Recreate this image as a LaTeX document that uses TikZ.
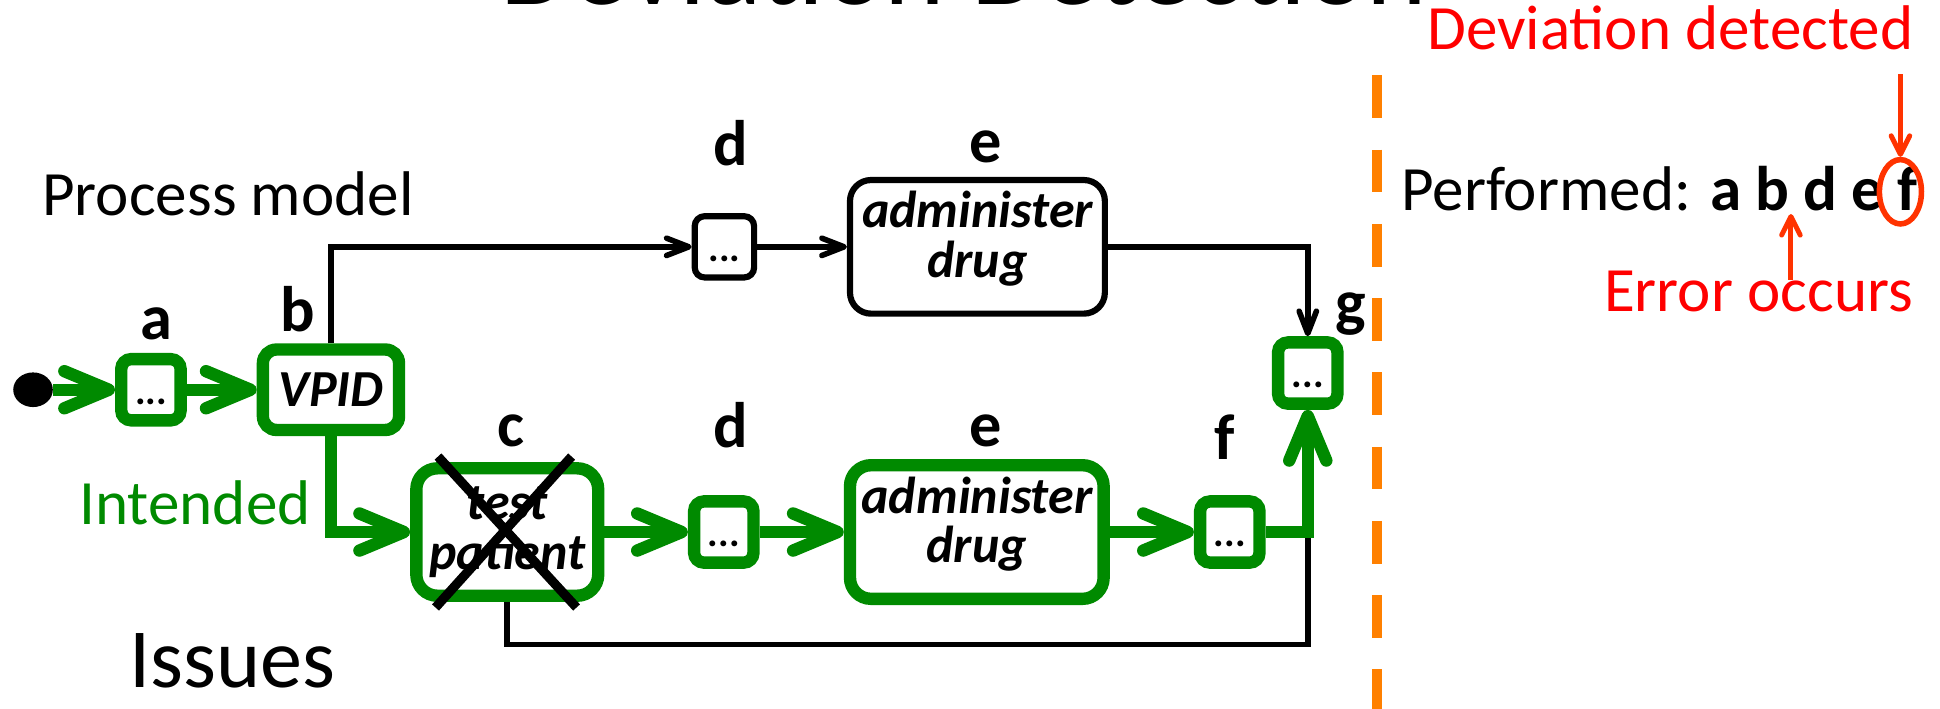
\documentclass[tikz,border=0pt]{standalone}
\usepackage{fontspec}
\setmainfont{Carlito}
\usetikzlibrary{arrows.meta,shapes.geometric}
\definecolor{flowgreen}{RGB}{0,138,0}
\definecolor{splitorange}{RGB}{255,128,0}
\definecolor{markred}{RGB}{255,51,0}
\newcommand{\lowpad}{\rule[-20pt]{0pt}{20pt}}

\begin{document}
\begin{tikzpicture}[x=1pt,y=-1pt,
  lbl/.style={anchor=base,font=\bfseries\fontsize{52}{52}\selectfont},
  say/.style={anchor=base west,font=\fontsize{51}{51}\selectfont},
  dotbox/.style={rounded corners=8pt,minimum width=48pt,minimum height=49.5pt,fill=white,inner sep=0pt,
    font=\bfseries\fontsize{32}{32}\selectfont,text height=24pt,text depth=0pt},
  taskbox/.style={rounded corners=17pt,fill=white,inner sep=0pt,align=center,
    font=\bfseries\itshape\fontsize{42}{40}\selectfont},
  done/.style={draw=flowgreen,line width=10pt},
  skipped/.style={draw=black,line width=5pt},
  flow/.style={flowgreen,line width=10pt,-{Straight Barb[length=36pt,width=30pt,round]}},
  altflow/.style={black,line width=4.5pt,-{Straight Barb[length=18pt,width=14pt,round]}},
  strike/.style={black,line width=7.5pt},
  redarrow/.style={markred,line width=4pt,-{Straight Barb[length=15pt,width=15pt,round]}}]
\useasboundingbox (0,0) rectangle (1568,573);

\node [anchor=base,font=\fontsize{93}{93}\selectfont] (title) at (779,4) {Deviation Detection};

% process model
\node [ellipse,fill=black,minimum width=32pt,minimum height=28pt,inner sep=0pt] (start) at (26.7,315) {};
\node [dotbox,done] (a) at (122,315) {...};
\node [taskbox,done,minimum width=110pt,minimum height=65pt,rounded corners=11pt] (b) at (267.5,315) {VPID};
\node [taskbox,done,minimum width=147pt,minimum height=103pt] (c) at (410,430) {test\\patient};
\node [dotbox,done] (d2) at (585,430) {...};
\node [taskbox,done,minimum width=205pt,minimum height=108pt] (e2) at (789.5,430) {administer\\drug\lowpad};
\node [dotbox,done] (f) at (994,430) {...};
\node [dotbox,done] (g) at (1057,301.5) {...};
\node [dotbox,skipped] (d1) at (585.5,199.5) {...};
\node [taskbox,skipped,minimum width=206pt,minimum height=108pt] (e1) at (790,199.5) {administer\\drug\lowpad};

\node [lbl] (la) at (126.5,274) {a};
\node [lbl] (lb) at (241,268) {b};
\node [lbl] (lc) at (413,361) {c};
\node [lbl] (ld1) at (591,133.5) {d};
\node [lbl] (le1) at (797,131) {e};
\node [lbl] (ld2) at (591,362) {d};
\node [lbl] (le2) at (796.5,361) {e};
\node [lbl] (lf) at (990,371) {f};
\node [lbl] (lg) at (1092,262) {g};

\node [say] (model) at (30.7,174) {Process model};
\node [say,flowgreen,anchor=base east] (intended) at (254.6,424) {Intended};
\node [say,font=\fontsize{68}{68}\selectfont] (issues) at (101,556) {Issues};

% skip path
\draw [altflow] (b) |- (d1);
\draw [altflow] (d1) -- (e1);
\draw [altflow] (e1) -| (g);
\coordinate (join) at (g |- f);
\coordinate (skip) at (1057,521);
\draw [black,line width=4.5pt] (c) |- (skip) -- (join);

% intended path
\draw [flow] (start) -- (a);
\draw [flow] (a) -- (b);
\draw [flow] (b) |- (c);
\draw [flow] (c) -- (d2);
\draw [flow] (d2) -- (e2);
\draw [flow] (e2) -- (f);
\draw [flow] (f) -| (g);

\draw [strike] ([shift={(-56,-61)}]c.center) -- ([shift={(56,61)}]c.center);
\draw [strike] ([shift={(52,-61)}]c.center) -- ([shift={(-58,61)}]c.center);

\draw [splitorange,line width=8pt,dash pattern=on 34.5pt off 25.5pt] (1113,61) -- (1113,573);

% performed trace
\node [say] (performed) at (1129,170) {Performed: \textbf{a b d e f}};
\node [say,red] (detected) at (1150,40) {Deviation detected};
\node [say,red] (occurs) at (1293,252) {Error occurs};
\node [ellipse,draw=markred,line width=4.5pt,minimum width=34pt,minimum height=52pt,inner sep=0pt] (ring) at (1536,155) {};
\coordinate (detecttail) at (1536,60);
\draw [redarrow] (detecttail) -- (ring);
\coordinate (occurtail) at (1447.5,226);
\coordinate (occurtip) at (1447.5,173);
\draw [redarrow] (occurtail) -- (occurtip);
\end{tikzpicture}
\end{document}
